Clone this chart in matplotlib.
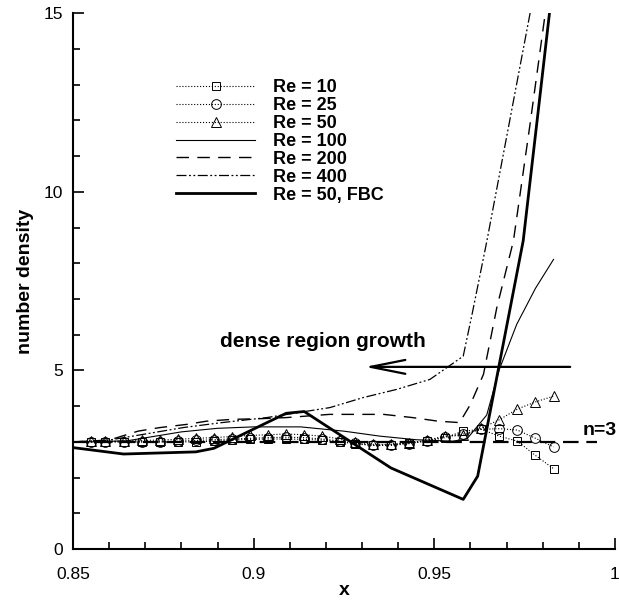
import matplotlib
matplotlib.use("Agg")
import matplotlib.pyplot as plt
from matplotlib.ticker import MultipleLocator, FixedLocator, FixedFormatter

plt.rcParams['font.family'] = ['Liberation Sans', 'DejaVu Sans']

# marker series (Re = 10, 25, 50)
x_pts = [0.855, 0.859, 0.864, 0.869, 0.874, 0.879, 0.884, 0.889, 0.894,
         0.899, 0.904, 0.909, 0.914, 0.919, 0.924, 0.928, 0.933, 0.938,
         0.943, 0.948, 0.953, 0.958, 0.963, 0.968, 0.973, 0.978, 0.983]
re10 = [3.0, 3.0, 3.0, 3.0, 3.0, 3.0, 3.0, 3.02, 3.05, 3.07, 3.08, 3.08,
        3.07, 3.05, 3.0, 2.95, 2.9, 2.92, 2.97, 3.02, 3.12, 3.3, 3.35,
        3.16, 3.02, 2.62, 2.25]
re25 = [3.0, 3.0, 3.0, 3.0, 3.0, 3.02, 3.04, 3.06, 3.08, 3.1, 3.12, 3.13,
        3.12, 3.08, 3.02, 2.96, 2.9, 2.9, 2.95, 3.03, 3.15, 3.22, 3.35,
        3.37, 3.33, 3.1, 2.86]
re50 = [3.02, 3.02, 3.03, 3.04, 3.05, 3.07, 3.1, 3.12, 3.15, 3.18, 3.2,
        3.22, 3.2, 3.16, 3.08, 3.0, 2.93, 2.93, 2.97, 3.05, 3.16, 3.18,
        3.38, 3.62, 3.92, 4.12, 4.28]

# line series
x100 = [0.85, 0.855, 0.865, 0.88, 0.89, 0.9, 0.913, 0.925, 0.935, 0.945,
        0.955, 0.959, 0.9645, 0.968, 0.9728, 0.978, 0.983]
re100 = [3.0, 3.0, 3.03, 3.28, 3.38, 3.42, 3.42, 3.3, 3.16, 3.06, 3.02,
         3.08, 3.75, 5.03, 6.29, 7.3, 8.11]

x200 = [0.85, 0.86, 0.868, 0.874, 0.8815, 0.887, 0.894, 0.902, 0.909,
        0.921, 0.928, 0.936, 0.944, 0.951, 0.957, 0.96, 0.9636, 0.9673,
        0.9719, 0.9765, 0.9807, 0.985]
re200 = [3.0, 3.05, 3.3, 3.4, 3.49, 3.58, 3.63, 3.65, 3.68, 3.77, 3.77,
         3.77, 3.68, 3.58, 3.54, 4.05, 4.89, 6.76, 8.63, 11.9, 15.0, 19.0]

x400 = [0.85, 0.86, 0.87, 0.8805, 0.8904, 0.9036, 0.9211, 0.9303, 0.9396,
        0.9488, 0.958, 0.9605, 0.9645, 0.9705, 0.9765, 0.98]
re400 = [3.0, 3.05, 3.22, 3.4, 3.53, 3.68, 3.96, 4.24, 4.47, 4.75, 5.4,
         6.6, 8.6, 11.8, 15.0, 16.9]

x_fbc = [0.85, 0.864, 0.884, 0.889, 0.909, 0.914, 0.938, 0.958, 0.962,
         0.9746, 0.9793, 0.983]
re50_fbc = [2.84, 2.66, 2.72, 2.82, 3.8, 3.85, 2.27, 1.39, 2.04, 8.63,
            12.74, 16.0]

x_ticks = [0.85, 0.9, 0.95, 1.0]
x_tick_labels = ['0.85', '0.9', '0.95', '1']
y_ticks = [0, 5, 10, 15]

fig = plt.figure(figsize=(6.19, 6.02), dpi=100)
ax = fig.add_axes([0.1179, 0.088, 0.8756, 0.8899])

mk = dict(color='black', mfc='none', mec='black', mew=0.7,
          linestyle=':', linewidth=0.8)
ax.plot(x_pts, re10, marker='s', markersize=5.5, label='Re = 10', **mk)
ax.plot(x_pts, re25, marker='o', markersize=7, label='Re = 25', **mk)
ax.plot(x_pts, re50, marker='^', markersize=7, label='Re = 50', **mk)
ax.plot(x100, re100, color='black', linewidth=0.8, label='Re = 100')
ax.plot(x200, re200, color='black', linewidth=1.0,
        linestyle=(0, (9, 6)), label='Re = 200')
ax.plot(x400, re400, color='black', linewidth=0.9,
        linestyle=(0, (8, 2, 1.5, 2, 1.5, 2)), label='Re = 400')
ax.plot(x_fbc, re50_fbc, color='black', linewidth=2.0, label='Re = 50, FBC')

# n=3 reference line
ax.plot([0.85, 0.995], [3, 3], color='black', linewidth=1.6,
        linestyle=(0, (7, 3.5)))
ax.text(0.9911, 3.33, 'n=3', fontsize=14, fontweight='bold',
        va='center', ha='left', clip_on=False)

# growth arrow
ax.annotate('', xy=(0.9308, 5.1), xytext=(0.9876, 5.1),
            arrowprops=dict(arrowstyle='->, head_length=2.5, head_width=0.5',
                            color='black', lw=1.6, shrinkA=0, shrinkB=0))
ax.text(0.8907, 5.8, 'dense region growth', fontsize=15,
        fontweight='bold', va='center', ha='left')

ax.set_xlim(0.85, 1.0)
ax.set_ylim(0, 15)
ax.xaxis.set_major_locator(FixedLocator(x_ticks))
ax.xaxis.set_major_formatter(FixedFormatter(x_tick_labels))
ax.xaxis.set_minor_locator(MultipleLocator(0.01))
ax.yaxis.set_major_locator(FixedLocator(y_ticks))
ax.yaxis.set_minor_locator(MultipleLocator(1))

for s in ['top', 'right']:
    ax.spines[s].set_visible(False)
for s in ['left', 'bottom']:
    ax.spines[s].set_linewidth(1.5)

ax.tick_params(which='both', direction='in', width=1.2, labelsize=12.5)
ax.tick_params(axis='y', which='major', length=8, pad=7)
ax.tick_params(axis='x', which='major', length=8, pad=13)
ax.tick_params(which='minor', length=5)

ax.set_xlabel('x', fontsize=14, fontweight='bold', labelpad=0)
ax.set_ylabel('number density', fontsize=14, fontweight='bold', labelpad=7)

ax.legend(loc='upper left', bbox_to_anchor=(0.19, 0.877), frameon=False,
          prop={'size': 13, 'weight': 'bold'}, handlelength=4.4,
          handletextpad=1.0, labelspacing=0.05, borderpad=0,
          borderaxespad=0, numpoints=1)

fig.savefig('out.png', dpi=100)
